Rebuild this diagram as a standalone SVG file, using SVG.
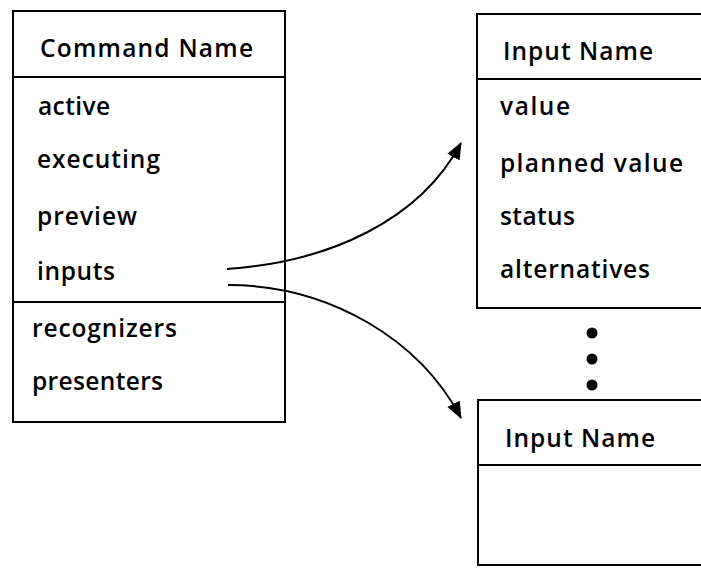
<svg xmlns="http://www.w3.org/2000/svg" width="701" height="575" viewBox="0 0 701 575">
<style>
.box{fill:#fff;stroke:#000;stroke-width:2}
.sep{stroke:#000;stroke-width:2}
text{font-family:"Open Sans","Noto Sans",sans-serif;font-size:24.5px;font-weight:600;fill:#000}
.conn{fill:none;stroke:#000;stroke-width:2}
</style>
<defs>
<marker id="arr" markerUnits="userSpaceOnUse" markerWidth="20" markerHeight="16" refX="16" refY="7" orient="auto">
<path d="M0,0 L17,7 L0,14 Z" fill="#000"/>
</marker>
</defs>
<rect width="701" height="575" fill="#fff"/>
<g id="command">
<rect class="box" x="13" y="11" width="272" height="411"/>
<line class="sep" x1="13" y1="77" x2="285" y2="77"/>
<line class="sep" x1="13" y1="302" x2="285" y2="302"/>
<text x="40" y="57" textLength="213">Command Name</text>
<text x="38" y="115" textLength="72">active</text>
<text x="37" y="168" textLength="123">executing</text>
<text x="37" y="225" textLength="100">preview</text>
<text x="37" y="280" textLength="78">inputs</text>
<text x="32" y="337" textLength="145">recognizers</text>
<text x="32" y="390" textLength="131">presenters</text>
</g>
<g id="input1">
<rect class="box" x="477" y="14" width="240" height="294"/>
<line class="sep" x1="477" y1="79" x2="701" y2="79"/>
<text x="503" y="60" textLength="150">Input Name</text>
<text x="500" y="115" textLength="70">value</text>
<text x="500" y="172" textLength="183">planned value</text>
<text x="500" y="225" textLength="75">status</text>
<text x="500" y="278" textLength="150">alternatives</text>
</g>
<g id="ellipsis">
<circle cx="592" cy="333" r="5.5"/>
<circle cx="592" cy="359" r="5.5"/>
<circle cx="592" cy="385" r="5.5"/>
</g>
<g id="input2">
<rect class="box" x="478" y="400" width="240" height="165"/>
<line class="sep" x1="478" y1="465" x2="701" y2="465"/>
<text x="505" y="447" textLength="150">Input Name</text>
</g>
<g id="connectors">
<path class="conn" d="M227,269 C330,262 420,220 461,143" marker-end="url(#arr)"/>
<path class="conn" d="M228,285 C330,285 420,340 461,418" marker-end="url(#arr)"/>
</g>
</svg>
